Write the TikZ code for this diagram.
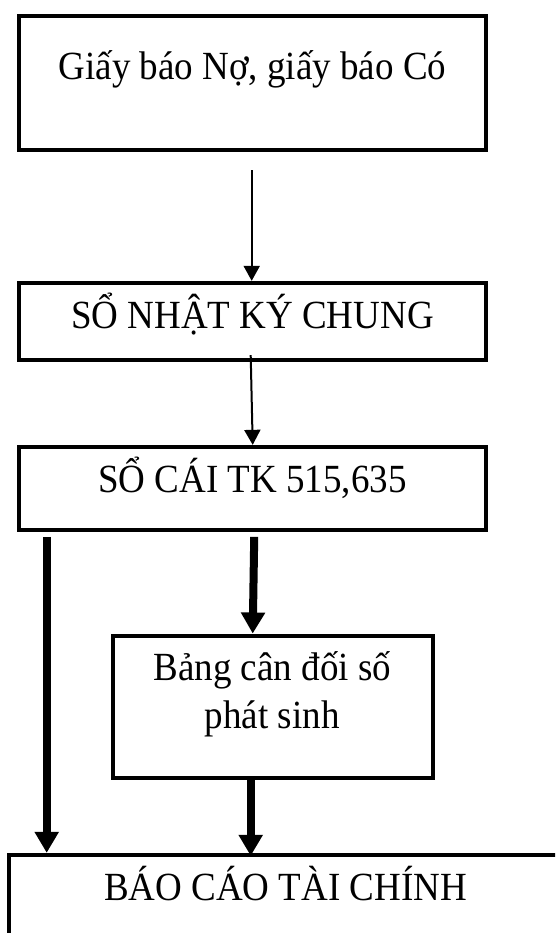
\documentclass[tikz,border=0pt]{standalone}
\usepackage{fontspec}
\setmainfont{Liberation Serif}
\usetikzlibrary{arrows.meta,calc}
\newcommand{\tallset}[1]{\scalebox{1}[1.08]{#1}}
\begin{document}
\begin{tikzpicture}[x=1pt,y=-1pt,
  frame/.style={draw, rectangle, line width=4.3pt, inner sep=0pt},
  txt/.style={anchor=base, inner sep=0pt, font=\fontsize{37}{47.7}\selectfont},
  thinflow/.style={line width=2pt, -{Triangle[length=15pt,width=16pt]}},
  thickflow/.style={line width=8pt, -{Triangle[length=21pt,width=23pt]}}]
  \useasboundingbox (0,0) rectangle (555,933);
  \fill[white] (0,0) rectangle (555,933);
  \clip (0,0) rectangle (555,933);

  % boxes
  \node[frame, minimum width=467pt, minimum height=134pt] (gbn) at (252.5,83) {};
  \node[frame, minimum width=467pt, minimum height=77pt]  (nkc) at (252.5,321.5) {};
  \node[frame, minimum width=467pt, minimum height=83pt]  (sc)  at (252.5,488.5) {};
  \node[frame, minimum width=320pt, minimum height=142.6pt] (bcd) at (272.7,707) {};
  \node[frame, minimum width=611pt, minimum height=145pt] (bctc) at (314.5,927.5) {};

  % texts
  \node[txt] (t1) at (252.5,80) {\tallset{Giấy báo Nợ, giấy báo Có}};
  \node[txt] (t2) at (252.5,328) {\tallset{SỔ NHẬT KÝ CHUNG}};
  \node[txt] (t3) at (252.5,492.7) {\tallset{SỔ CÁI TK 515,635}};
  \node[txt] (t4a) at (272.3,680.7) {\tallset{Bảng cân đối số}};
  \node[txt] (t4b) at (272.3,728.3) {\tallset{phát sinh}};
  \node[txt] (t5) at (285.5,900) {\tallset{BÁO CÁO TÀI CHÍNH}};

  % arrow columns
  \coordinate (xa) at (251.7,0);
  \coordinate (xb) at (250.7,0);
  \coordinate (xc) at (252.7,0);
  \coordinate (xl) at (46.7,0);
  \coordinate (xm) at (254.3,0);
  \coordinate (xn) at (250.7,0);

  % connectors
  \draw[thinflow, shorten <=18pt] (gbn.south -| xa) -- (nkc.north -| xa);
  \draw[thinflow] ($(nkc.south -| xb)+(0,-7)$) -- (sc.north -| xc);
  \draw[thickflow, shorten <=4.7pt] (sc.south -| xl) -- (bctc.north -| xl);
  \draw[thickflow, shorten <=4.7pt] (sc.south -| xm) -- (bcd.north -| xc);
  \draw[thickflow, shorten >=-3pt] (bcd.south -| xn) -- (bctc.north -| xn);
\end{tikzpicture}
\end{document}
